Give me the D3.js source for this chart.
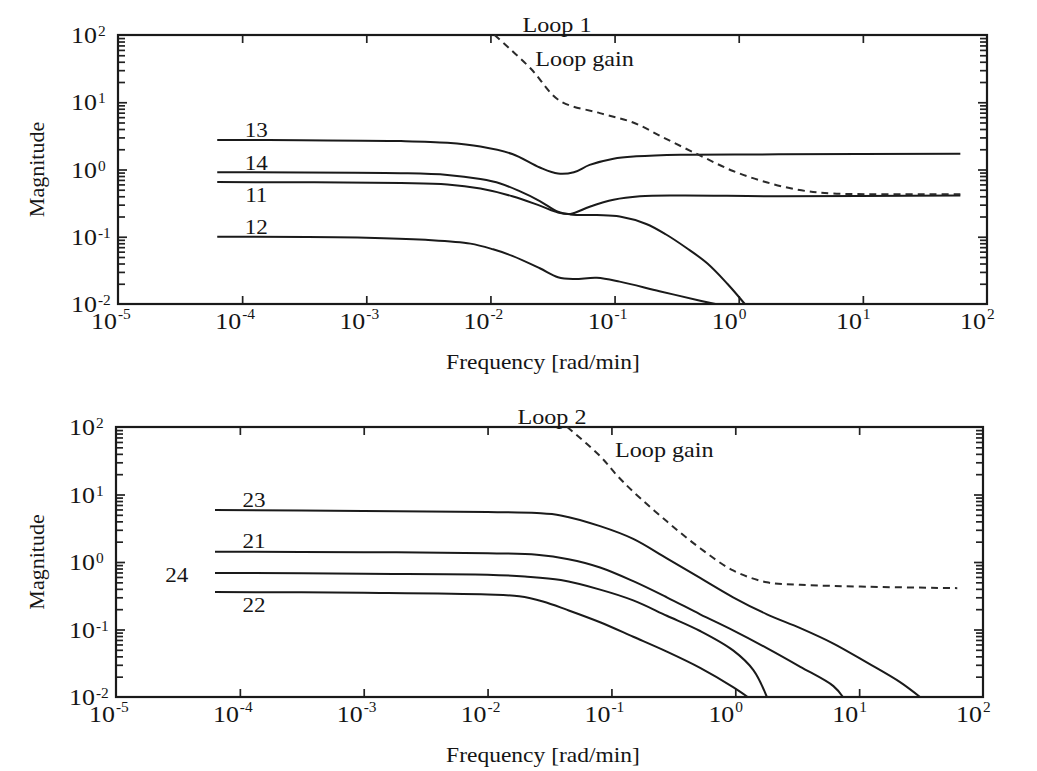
<!DOCTYPE html>
<html>
<head>
<meta charset="utf-8">
<script src="https://cdn.jsdelivr.net/npm/d3@7"></script>
<style>
body { margin: 0; background: #fff; }
text { font-family: "Liberation Serif", "Times New Roman", serif; fill: #151515; }
</style>
</head>
<body>
<div id="chart"></div>
<script>
// axis decades (powers of ten)
var xDecades = [-5, -4, -3, -2, -1, 0, 1, 2];
var yDecades = [-2, -1, 0, 1, 2];

// Loop 1 curves: [frequency rad/min, magnitude]
var loop1_13 = [[6.3e-5, 2.75], [3e-4, 2.72], [1.9e-3, 2.65], [4.5e-3, 2.5], [8.3e-3, 2.2], [0.015, 1.7], [0.025, 1.07], [0.035, 0.87], [0.047, 0.91], [0.063, 1.17], [0.098, 1.45], [0.15, 1.57], [0.34, 1.66], [2.1, 1.68], [61, 1.72]];
var loop1_14 = [[6.3e-5, 0.91], [1.9e-3, 0.88], [4.5e-3, 0.83], [8.3e-3, 0.72], [0.012, 0.62], [0.017, 0.48], [0.025, 0.34], [0.035, 0.235], [0.044, 0.215], [0.072, 0.21], [0.11, 0.2], [0.18, 0.155], [0.26, 0.108], [0.38, 0.068], [0.56, 0.04], [0.81, 0.02], [1.12, 0.01]];
var loop1_11 = [[6.3e-5, 0.65], [1.9e-3, 0.63], [4.5e-3, 0.6], [8.3e-3, 0.52], [0.015, 0.4], [0.025, 0.29], [0.035, 0.23], [0.044, 0.218], [0.063, 0.28], [0.098, 0.355], [0.16, 0.4], [0.34, 0.41], [2.1, 0.4], [61, 0.41]];
var loop1_12 = [[6.3e-5, 0.1], [1e-3, 0.097], [3e-3, 0.09], [6.9e-3, 0.079], [0.0105, 0.065], [0.015, 0.052], [0.025, 0.034], [0.035, 0.025], [0.047, 0.0235], [0.072, 0.0245], [0.11, 0.0215], [0.23, 0.0155], [0.49, 0.0112], [0.65, 0.01]];
var loop1_gain = [[0.0108, 100], [0.021, 32], [0.036, 10.6], [0.076, 6.9], [0.141, 5.0], [0.26, 2.85], [0.49, 1.61], [0.9, 0.95], [1.7, 0.64], [3.2, 0.49], [5.75, 0.44], [61, 0.43]];

// Loop 2 curves: [frequency rad/min, magnitude]
var loop2_23 = [[6.3e-5, 5.9], [1e-3, 5.7], [0.01, 5.5], [0.025, 5.3], [0.039, 4.9], [0.081, 3.4], [0.15, 2.2], [0.28, 1.13], [0.52, 0.58], [0.96, 0.3], [1.8, 0.168], [3.35, 0.105], [6.2, 0.062], [11.7, 0.032], [21.4, 0.0166], [31, 0.01]];
var loop2_21 = [[6.3e-5, 1.42], [1e-3, 1.4], [0.01, 1.35], [0.025, 1.28], [0.045, 1.1], [0.081, 0.83], [0.15, 0.52], [0.28, 0.3], [0.52, 0.168], [0.96, 0.097], [1.8, 0.053], [3.35, 0.028], [6.2, 0.0145], [7.4, 0.01]];
var loop2_24 = [[6.3e-5, 0.69], [1e-3, 0.67], [0.01, 0.65], [0.02, 0.61], [0.039, 0.54], [0.081, 0.39], [0.15, 0.27], [0.28, 0.16], [0.52, 0.095], [0.96, 0.049], [1.4, 0.025], [1.8, 0.01]];
var loop2_22 = [[6.3e-5, 0.36], [1e-3, 0.35], [0.01, 0.33], [0.018, 0.31], [0.028, 0.26], [0.044, 0.195], [0.081, 0.128], [0.15, 0.078], [0.28, 0.047], [0.52, 0.027], [0.96, 0.014], [1.26, 0.01]];
var loop2_gain = [[0.044, 100], [0.081, 37], [0.112, 18.8], [0.15, 11], [0.28, 4.0], [0.52, 1.6], [0.96, 0.75], [1.8, 0.5], [3.35, 0.46], [11.7, 0.43], [62, 0.41]];

// curve labels: [text, frequency, magnitude]
var loop1_labels = [["13", 1.3e-4, 3.05], ["14", 1.3e-4, 1.0], ["11", 1.3e-4, 0.33], ["12", 1.3e-4, 0.11]];
var loop2_labels = [["23", 1.3e-4, 6.5], ["21", 1.3e-4, 1.63], ["24", 3.1e-5, 0.51], ["22", 1.3e-4, 0.18]];

var width = 1037, height = 771;
var svg = d3.select("#chart").append("svg").attr("width", width).attr("height", height);

function addText(g, x, y, str, size, anchor, sx) {
  return g.append("text")
    .attr("transform", "translate(" + x + "," + y + ") scale(" + sx + ",1)")
    .attr("text-anchor", anchor)
    .style("font-size", size + "px")
    .text(str);
}

function drawPanel(p) {
  var x = d3.scaleLog().domain([1e-5, 1e2]).range([p.left, p.right]);
  var y = d3.scaleLog().domain([1e-2, 1e2]).range([p.bottom, p.top]);
  var g = svg.append("g");

  // minor and major ticks on left / right sides
  var minor = [], major = [];
  yDecades.slice(0, -1).forEach(function(d) {
    for (var k = 2; k <= 9; k++) minor.push(k * Math.pow(10, d));
  });
  yDecades.slice(1, -1).forEach(function(d) { major.push(Math.pow(10, d)); });
  var xMajor = xDecades.slice(1, -1).map(function(d) { return Math.pow(10, d); });

  var axes = [
    g.append("g").attr("transform", "translate(" + p.left + ",0)").call(d3.axisLeft(y).tickValues(minor).tickSize(-7).tickFormat("")),
    g.append("g").attr("transform", "translate(" + p.left + ",0)").call(d3.axisLeft(y).tickValues(major).tickSize(-9).tickFormat("")),
    g.append("g").attr("transform", "translate(" + p.right + ",0)").call(d3.axisRight(y).tickValues(minor).tickSize(-7).tickFormat("")),
    g.append("g").attr("transform", "translate(" + p.right + ",0)").call(d3.axisRight(y).tickValues(major).tickSize(-9).tickFormat("")),
    g.append("g").attr("transform", "translate(0," + p.top + ")").call(d3.axisTop(x).tickValues(xMajor).tickSize(-8).tickFormat("")),
    g.append("g").attr("transform", "translate(0," + p.bottom + ")").call(d3.axisBottom(x).tickValues(xMajor).tickSize(-8).tickFormat(""))
  ];
  axes.forEach(function(a) {
    a.select(".domain").remove();
    a.selectAll("line").attr("stroke", "#222").attr("stroke-width", 1.7);
  });

  // frame
  g.append("rect")
    .attr("x", p.left).attr("y", p.top)
    .attr("width", p.right - p.left).attr("height", p.bottom - p.top)
    .attr("fill", "none").attr("stroke", "#1a1a1a").attr("stroke-width", 2.2);

  // tick labels
  yDecades.forEach(function(d) {
    var yy = y(Math.pow(10, d));
    addText(g, p.left - 21, yy + 8, "10", 24, "end", 1.08);
    addText(g, p.left - 20, yy + 1, String(d), 14, "start", 1.1);
  });
  xDecades.forEach(function(d) {
    var xx = x(Math.pow(10, d));
    addText(g, xx - 1, p.bottom + 25, "10", 24, "end", 1.08);
    addText(g, xx, p.bottom + 15, String(d), 14, "start", 1.1);
  });

  // axis titles
  addText(g, 543, p.bottom + 65, "Frequency [rad/min]", 21, "middle", 1.12);
  g.append("text")
    .attr("transform", "translate(44," + (p.top + p.bottom) / 2 + ") rotate(-90)")
    .attr("text-anchor", "middle")
    .style("font-size", "22px")
    .text("Magnitude");

  // curves
  var clipId = "clip" + p.name;
  g.append("clipPath").attr("id", clipId).append("rect")
    .attr("x", p.left).attr("y", p.top - 1)
    .attr("width", p.right - p.left).attr("height", p.bottom - p.top + 2);
  var line = d3.line()
    .x(function(d) { return x(d[0]); })
    .y(function(d) { return y(d[1]); })
    .curve(d3.curveCatmullRom.alpha(0.5));
  var cg = g.append("g").attr("clip-path", "url(#" + clipId + ")");
  cg.selectAll("path.solid").data(p.series).enter().append("path")
    .attr("class", "solid")
    .attr("d", line)
    .attr("fill", "none").attr("stroke", "#1a1a1a").attr("stroke-width", 2);
  cg.append("path").datum(p.gain)
    .attr("d", line)
    .attr("fill", "none").attr("stroke", "#2a2a2a").attr("stroke-width", 2)
    .attr("stroke-dasharray", "7,5");

  // curve labels
  p.labels.forEach(function(l) {
    addText(g, x(l[1]), y(l[2]), l[0], 22, "middle", 1.05);
  });

  // loop title and loop gain label
  addText(g, p.titleX, p.top - 3, p.title, 21, "middle", 1.15);
  addText(g, x(p.gainLabel[0]), y(p.gainLabel[1]), "Loop gain", 21, "start", 1.15);
}

drawPanel({
  name: "1", left: 118, right: 987, top: 35, bottom: 304,
  series: [loop1_13, loop1_14, loop1_11, loop1_12], gain: loop1_gain,
  labels: loop1_labels, title: "Loop 1", titleX: 557, gainLabel: [0.023, 35]
});
drawPanel({
  name: "2", left: 116, right: 983, top: 427, bottom: 697,
  series: [loop2_23, loop2_21, loop2_24, loop2_22], gain: loop2_gain,
  labels: loop2_labels, title: "Loop 2", titleX: 552, gainLabel: [0.107, 36]
});
</script>
</body>
</html>
